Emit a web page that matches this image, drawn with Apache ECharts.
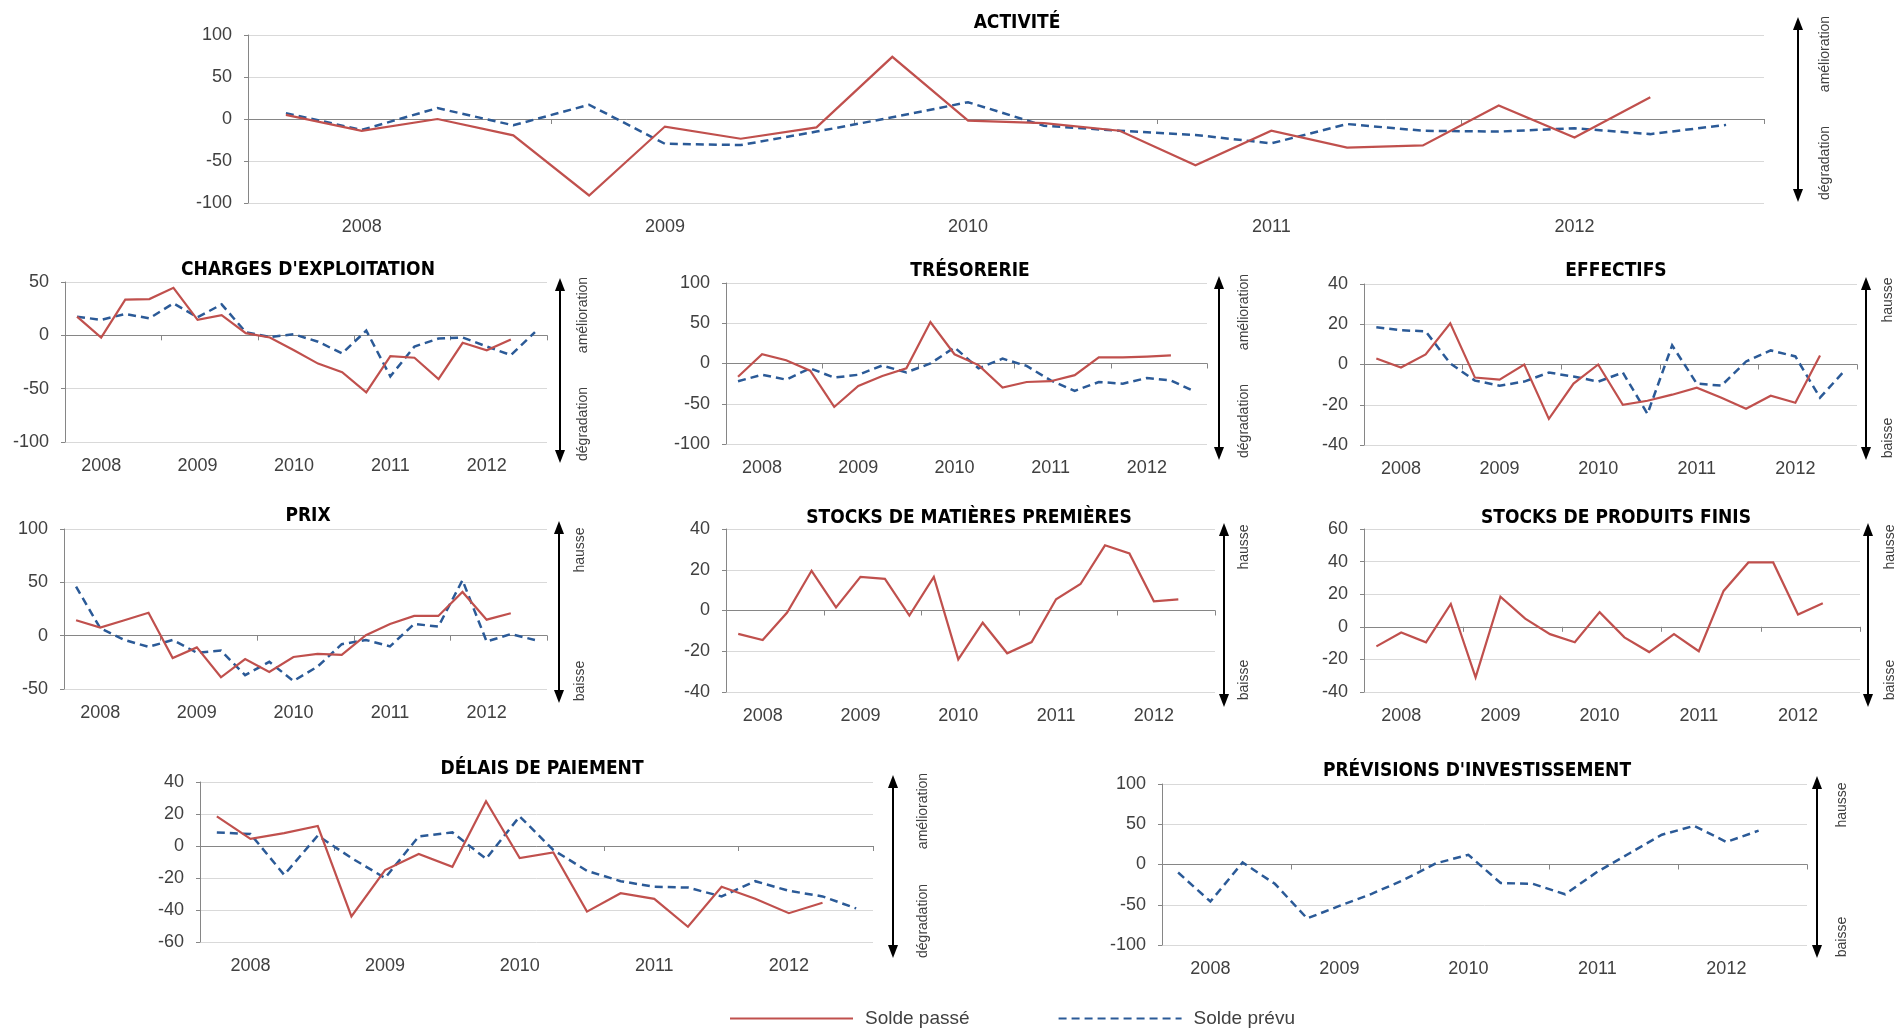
<!DOCTYPE html>
<html><head><meta charset="utf-8">
<script src="https://cdn.jsdelivr.net/npm/echarts@6/dist/echarts.min.js"></script>
<style>html,body{margin:0;padding:0;background:#fff}#c{width:1895px;height:1029px}</style>
</head><body><div id="c"></div>
<script>
// ---- DATA ----
const quarters = ['2007T4','2008T1','2008T2','2008T3','2008T4','2009T1','2009T2','2009T3','2009T4','2010T1','2010T2','2010T3','2010T4','2011T1','2011T2','2011T3','2011T4','2012T1','2012T2','2012T3'];
const seriesNames = ['Solde passé', 'Solde prévu'];

const activitePasse = [5, -14, 0, -19.5, -91, -9, -23.5, -10, 74, -2, -5, -14, -55, -14, -34, -31.5, 16, -22, 26];
const activitePrevu = [7, -13, 13, -7.5, 17, -29.5, -31, -15, 2, 20, -8, -14, -19, -29, -6, -14, -15, -11, -18, -7];

const chargesPasse = [17.5, -2, 33.5, 34, 44.5, 14.5, 19, 2, -2, -14, -26.5, -34.5, -53.5, -19.5, -21, -41, -7, -14, -4];
const chargesPrevu = [17.5, 14.5, 20, 16, 30, 17, 29, 3, -1.5, 1, -6, -17, 4.5, -38.5, -10.5, -3, -2, -10.5, -18.5, 3];

const tresoPasse = [-16.5, 11.5, 4, -9, -54, -28, -15.5, -6, 51.5, 11.5, -2, -30, -23, -22, -14.5, 7.5, 7.5, 8.5, 10];
const tresoPrevu = [-22, -14, -20, -6, -17.5, -14, -2.5, -11, 0, 20, -6, 6, -3, -21, -34, -23, -25, -18, -21, -35];

const effectifsPasse = [3, -1.5, 5, 20.5, -6.5, -7.5, 0, -27, -9.5, 0, -20, -18, -15, -11.5, -16.5, -22, -15.5, -19, 4.5];
const effectifsPrevu = [18.5, 17, 16.5, 0.5, -8, -10.5, -8.5, -4, -6, -8.5, -4, -24.5, 9.5, -9.5, -10.5, 1.5, 7, 4, -16.5, -3];

const prixPasse = [14.5, 7.5, 14.5, 21.5, -21, -11, -39, -22, -34, -20, -17, -18, 0.5, 11, 18.5, 18.5, 41, 15, 21];
const prixPrevu = [46, 7, -4, -10.5, -4, -16, -14, -37, -24.5, -42.5, -29, -8, -4, -10, 11, 8.5, 52, -5.5, 1.5, -4];

const stocksMPPasse = [-11.5, -14.5, -1, 19.5, 1.5, 16.5, 15.5, -2.5, 16.5, -24, -6, -21, -15.5, 5.5, 13, 32, 28, 4.5, 5.5];
const stocksPFPasse = [-12, -3.5, -9.5, 14, -31, 18.5, 5, -4.5, -9.5, 9, -6.5, -15.5, -4.5, -15, 22, 39.5, 39.5, 7.5, 14.5];

const delaisPasse = [18.5, 4.5, 8, 12.5, -44, -15, -5, -13, 28, -7.5, -4, -41, -29.5, -33, -50.5, -25.5, -33, -42, -35.5];
const delaisPrevu = [8.5, 7.5, -18, 6.5, -7.5, -20, 6, 8.5, -8, 18.5, -2.5, -15.5, -22, -25.5, -26, -31.5, -22, -28, -31.5, -39];

const investPrevu = [-10, -46, 2.5, -24, -67, -51.5, -36.5, -19, 1.5, 12, -23, -24, -37, -9, 14, 37, 48, 28, 42];

// ---- PANELS (layout + references to data) ----
const panels = [
  {title:'ACTIVITÉ', passe:activitePasse, prevu:activitePrevu, min:-100, max:100, step:50, up:'amélioration', down:'dégradation',
   g:[248,35,1516,168], t:[1017,21], a:[1798,17,202], l:[1825,54,163]},
  {title:"CHARGES D'EXPLOITATION", passe:chargesPasse, prevu:chargesPrevu, min:-100, max:50, step:50, up:'amélioration', down:'dégradation',
   g:[65,282,482,160], t:[308,268], a:[560,278,463], l:[583,315,424]},
  {title:'TRÉSORERIE', passe:tresoPasse, prevu:tresoPrevu, min:-100, max:100, step:50, up:'amélioration', down:'dégradation',
   g:[726,283,481,161], t:[970,269], a:[1219,276,460], l:[1244,312,421]},
  {title:'EFFECTIFS', passe:effectifsPasse, prevu:effectifsPrevu, min:-40, max:40, step:20, up:'hausse', down:'baisse',
   g:[1364,284,493,161], t:[1616,269], a:[1866,277,460], l:[1888,300,438]},
  {title:'PRIX', passe:prixPasse, prevu:prixPrevu, min:-50, max:100, step:50, up:'hausse', down:'baisse',
   g:[64,529,483,160], t:[308,514], a:[559,521,703], l:[580,550,681]},
  {title:'STOCKS DE MATIÈRES PREMIÈRES', passe:stocksMPPasse, prevu:null, min:-40, max:40, step:20, up:'hausse', down:'baisse',
   g:[726,529,489,163], t:[969,516], a:[1224,523,707], l:[1244,547,680]},
  {title:'STOCKS DE PRODUITS FINIS', passe:stocksPFPasse, prevu:null, min:-40, max:60, step:20, up:'hausse', down:'baisse',
   g:[1364,529,496,163], t:[1616,516], a:[1868,523,707], l:[1890,547,680]},
  {title:'DÉLAIS DE PAIEMENT', passe:delaisPasse, prevu:delaisPrevu, min:-60, max:40, step:20, up:'amélioration', down:'dégradation',
   g:[200,782,673,160], t:[542,767], a:[893,775,958], l:[923,811,921]},
  {title:"PRÉVISIONS D'INVESTISSEMENT", passe:null, prevu:investPrevu, min:-100, max:100, step:50, up:'hausse', down:'baisse',
   g:[1162,784,645,161], t:[1477,769], a:[1817,776,958], l:[1842,805,937]}
];

const RED = '#C0504D', BLUE = '#2B5A97', AXIS = '#868686', GRID = '#D9D9D9', TXT = '#404040';
const LABEL_FONT = 'Liberation Sans';
const TITLE_FONT = 'DejaVu Sans Condensed';

const grid = [], xAxis = [], yAxis = [], series = [], title = [], graphic = [];
panels.forEach((p, i) => {
  grid.push({left:p.g[0], top:p.g[1], width:p.g[2], height:p.g[3], containLabel:false});
  title.push({text:p.title, left:p.t[0], top:p.t[1]-7, textAlign:'center', padding:0,
    textStyle:{fontFamily:TITLE_FONT, fontWeight:'bold', fontSize:19, color:'#000'}});
  // axis line at zero with ticks
  xAxis.push({type:'category', gridIndex:i, data:quarters, boundaryGap:true,
    axisLine:{show:true, onZero:true, lineStyle:{color:AXIS, width:1}},
    axisTick:{show:true, length:5, interval:(idx)=>idx%4===0, lineStyle:{color:AXIS}},
    axisLabel:{show:false}, splitLine:{show:false}});
  // year labels at bottom
  xAxis.push({type:'category', gridIndex:i, data:quarters, boundaryGap:true, position:'bottom',
    axisLine:{show:false, onZero:false}, axisTick:{show:false}, splitLine:{show:false},
    axisLabel:{show:true, interval:(idx)=>idx%4===1, formatter:(v)=>v.slice(0,4), margin:15,
      fontFamily:LABEL_FONT, fontSize:18, color:TXT}});
  yAxis.push({type:'value', gridIndex:i, min:p.min, max:p.max, interval:p.step,
    axisLine:{show:true, onZero:false, lineStyle:{color:AXIS, width:1}},
    axisTick:{show:true, length:4, lineStyle:{color:AXIS}},
    axisLabel:{margin:16, fontFamily:LABEL_FONT, fontSize:18, color:TXT},
    splitLine:{show:true, lineStyle:{color:GRID, width:1}}});
  if (p.prevu) series.push({type:'line', name:seriesNames[1], xAxisIndex:2*i, yAxisIndex:i, data:p.prevu,
    symbol:'none', showSymbol:false, itemStyle:{color:BLUE}, lineStyle:{color:BLUE, width:2.5, type:[8,5], join:'miter'}, z:2});
  if (p.passe) series.push({type:'line', name:seriesNames[0], xAxisIndex:2*i, yAxisIndex:i, data:p.passe,
    symbol:'none', showSymbol:false, itemStyle:{color:RED}, lineStyle:{color:RED, width:2.2, join:'miter'}, z:3});
  // double arrow
  const [ax, ay1, ay2] = p.a;
  graphic.push({type:'line', shape:{x1:ax, y1:ay1+8, x2:ax, y2:ay2-8}, style:{stroke:'#000', lineWidth:2}});
  graphic.push({type:'polygon', shape:{points:[[ax,ay1],[ax-5,ay1+13],[ax+5,ay1+13]]}, style:{fill:'#000'}});
  graphic.push({type:'polygon', shape:{points:[[ax,ay2],[ax-5,ay2-13],[ax+5,ay2-13]]}, style:{fill:'#000'}});
  const [lx, uy, dy] = p.l;
  [[p.up, uy], [p.down, dy]].forEach(([txt, yy]) => {
    graphic.push({type:'text', x:lx, y:yy, rotation:Math.PI/2,
      style:{text:txt, font:'14px "Liberation Sans"', fill:TXT, align:'center', verticalAlign:'middle',
        textAlign:'center', textVerticalAlign:'middle'}});
  });
});

const chart = echarts.init(document.getElementById('c'), null, {renderer:'canvas'});
chart.setOption({
  animation:false,
  backgroundColor:'#fff',
  title, grid, xAxis, yAxis, series, graphic,
  legend:{data:seriesNames, left:724, top:1004, itemWidth:123, itemHeight:14, itemGap:88,
    itemStyle:{opacity:0},
    textStyle:{fontFamily:LABEL_FONT, fontSize:19, color:TXT, padding:[0,0,0,7]}}
});
</script></body></html>
